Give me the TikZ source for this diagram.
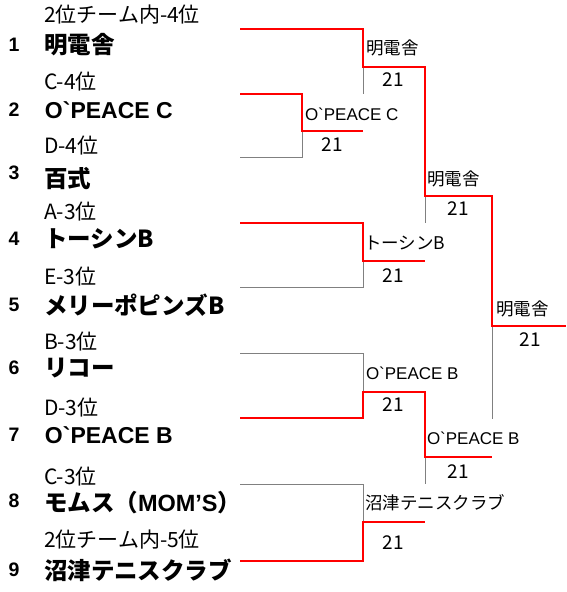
\documentclass[tikz,border=0pt]{standalone}
\usepackage{fontspec}
\setmainfont{Noto Sans CJK JP}
\newfontfamily\latin{Liberation Sans}
\usepackage{tikz}

\begin{document}
\begin{tikzpicture}[x=1pt,y=-1pt,
    every node/.style={inner sep=0pt,outer sep=0pt},
    seed/.style={anchor=west,font=\fontsize{21}{21}\selectfont},
    team/.style={anchor=west,font=\bfseries\fontsize{23.5}{24}\selectfont},
    num/.style={font=\latin\bfseries\fontsize{19.5}{20}\selectfont},
    winner/.style={anchor=west,font=\fontsize{17.5}{18}\selectfont},
    score/.style={font=\fontsize{19}{19}\selectfont},
    winline/.style={red,line width=2pt},
    loseline/.style={gray,line width=1pt}]
  \useasboundingbox (0,0) rectangle (566,592);

  % entries
  \node[seed] (s1) at (44,15)  {2位チーム内-4位};
  \node[num]  (n1) at (14,45)  {1};
  \node[team] (e1) at (44,45)  {明電舎};
  \node[seed] (s2) at (44,82)  {C-4位};
  \node[num]  (n2) at (14,110) {2};
  \node[team] (e2) at (45,110) {\latin\fontsize{23}{23}\selectfont O`PEACE C};
  \node[seed] (s3) at (44,146) {D-4位};
  \node[num]  (n3) at (14,173) {3};
  \node[team] (e3) at (44,179) {百式};
  \node[seed] (s4) at (44,212) {A-3位};
  \node[num]  (n4) at (14,239) {4};
  \node[team] (e4) at (44,239) {トーシンB};
  \node[seed] (s5) at (44,277) {E-3位};
  \node[num]  (n5) at (14,305) {5};
  \node[team] (e5) at (44,305) {メリーポピンズB};
  \node[seed] (s6) at (44,342) {B-3位};
  \node[num]  (n6) at (14,368) {6};
  \node[team] (e6) at (44,368) {リコー};
  \node[seed] (s7) at (44,408) {D-3位};
  \node[num]  (n7) at (14,435) {7};
  \node[team] (e7) at (45,435) {\latin\fontsize{23}{23}\selectfont O`PEACE B};
  \node[seed] (s8) at (44,477) {C-3位};
  \node[num]  (n8) at (14,501) {8};
  \node[team] (e8) at (44,503) {モムス（{\latin MOM’S}）};
  \node[seed] (s9) at (44,540) {2位チーム内-5位};
  \node[num]  (n9) at (14,570) {9};
  \node[team] (e9) at (44,570) {沼津テニスクラブ};

  % bracket points
  \coordinate (t1) at (240,29);  \coordinate (t2) at (240,94);
  \coordinate (t3) at (240,157); \coordinate (t4) at (240,223);
  \coordinate (t5) at (240,287); \coordinate (t6) at (240,353);
  \coordinate (t7) at (240,418); \coordinate (t8) at (240,484);
  \coordinate (t9) at (240,561);
  \coordinate (a1) at (302,131); \coordinate (b1) at (363,67);
  \coordinate (b2) at (363,261); \coordinate (b3) at (363,392);
  \coordinate (b4) at (363,522); \coordinate (c1) at (425,196);
  \coordinate (c2) at (425,457); \coordinate (f)  at (492,326);

  % losing sides
  \draw[loseline] (b1) -- (363,94);
  \draw[loseline] (a1) -- (302,157) -- (t3);
  \draw[loseline] (c1) -- (425,223);
  \draw[loseline] (b2) -- (363,287) -- (t5);
  \draw[loseline] (f) -- (492,419);
  \draw[loseline] (t6) -- (363,353) -- (b3);
  \draw[loseline] (c2) -- (425,484);
  \draw[loseline] (t8) -- (363,484) -- (b4);

  % winning sides
  \draw[winline] (t1) -- (363,29) -- (b1) -- (425,67) -- (c1) -- (492,196) -- (f) -- (566,326);
  \draw[winline] (t2) -- (302,94) -- (a1) -- (363,131);
  \draw[winline] (t4) -- (363,223) -- (b2) -- (425,261);
  \draw[winline] (t7) -- (363,418) -- (b3) -- (425,392) -- (c2) -- (492,457);
  \draw[winline] (t9) -- (363,561) -- (b4) -- (425,522);

  % results
  \node[winner] (w1) at (366,48)  {明電舎};
  \node[score]  (p1) at (393,80)  {21};
  \node[winner] (w2) at (305,114) {\latin\fontsize{17}{17}\selectfont O`PEACE C};
  \node[score]  (p2) at (332,145) {21};
  \node[winner] (w3) at (427,179) {明電舎};
  \node[score]  (p3) at (458,209) {21};
  \node[winner] (w4) at (364,243) {トーシンB};
  \node[score]  (p4) at (393,276) {21};
  \node[winner] (w5) at (496,309) {明電舎};
  \node[score]  (p5) at (530,340) {21};
  \node[winner] (w6) at (366,373) {\latin\fontsize{17}{17}\selectfont O`PEACE B};
  \node[score]  (p6) at (393,405) {21};
  \node[winner] (w7) at (427,438) {\latin\fontsize{17}{17}\selectfont O`PEACE B};
  \node[score]  (p7) at (458,472) {21};
  \node[winner] (w8) at (365,503) {沼津テニスクラブ};
  \node[score]  (p8) at (393,543) {21};
\end{tikzpicture}
\end{document}
